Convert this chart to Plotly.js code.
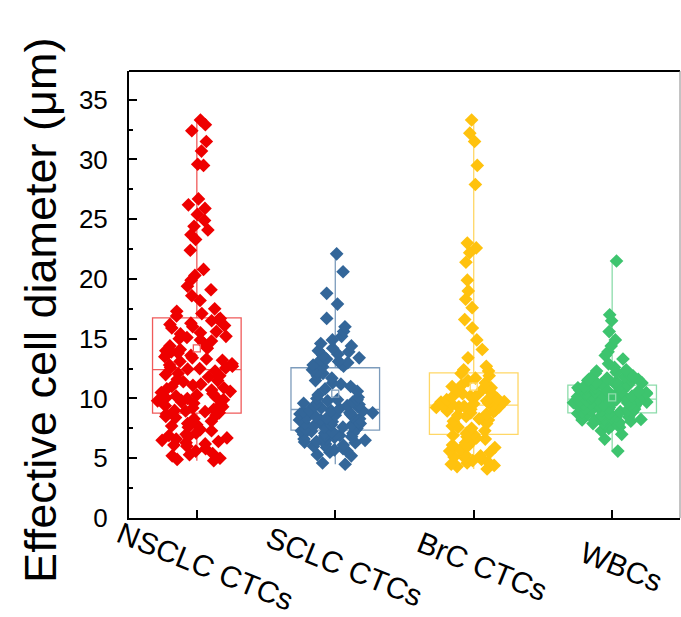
<!DOCTYPE html>
<html>
<head>
<meta charset="utf-8">
<script src="https://cdn.plot.ly/plotly-3.0.1.min.js"></script>
<style>html,body{margin:0;padding:0;background:#fff;}#chart{width:681px;height:617px;}</style>
</head>
<body>
<div id="chart"></div>
<script>
// Categories and colours
const categories = ["NSCLC CTCs", "SCLC CTCs", "BrC CTCs", "WBCs"];
const colors = ["#EE0000", "#336699", "#FFC20E", "#3DC46E"];
const boxLineColors = ["#F05A5A", "#7D9CBC", "#FFD766", "#8CDCAA"];

// Effective cell diameter values (µm)
const nsclc = [33.3, 32.9, 32.4, 31.5, 30.7, 29.6, 29.5, 26.7, 26.2, 25.9, 25.4, 24.9, 24.4, 24.1, 23.7, 23.3, 22.4, 20.8, 20.3, 19.9, 19.4, 19.1, 18.6, 18.2, 17.5, 17.3, 17.1, 16.9,
  16.6, 16.5, 16.2, 16.3, 15.9, 15.6, 15.5, 15.4, 15.1, 14.8, 14.9, 14.6, 14.4, 14.1, 13.9, 14.0, 13.6, 13.5, 13.3, 13.2, 13.4, 12.9, 12.7, 12.6, 12.8, 12.5, 13.8, 15.2, 16.0, 12.45,
  16.1, 15.0, 14.2, 13.7, 13.1, 12.55, 16.7,
  12.3, 12.1, 11.9, 11.8, 11.5, 11.4, 11.2, 11.0, 10.9, 10.8, 10.6, 10.5, 10.3, 10.2, 10.1, 10.0, 9.9, 9.8, 9.6, 9.5, 9.4, 9.3, 9.1, 9.0, 8.95, 8.9, 8.8, 10.4, 11.1, 9.7,
  10.05, 9.85, 11.6, 12.0, 9.2, 10.7,
  8.6, 8.5, 8.3, 8.1, 7.9, 7.8, 7.6, 7.4, 7.1, 7.0, 6.8, 6.7, 6.6, 6.5, 6.3, 6.1, 6.0, 5.8, 5.6, 5.4, 5.2, 5.0, 4.9, 4.8, 6.4, 7.3,
  8.4, 7.7, 6.9, 6.2, 5.3, 8.7];
const sclc = [22.1, 20.6, 18.8, 17.9, 16.7, 16.0, 15.6, 15.2, 14.9, 14.6, 14.4, 14.2, 13.9, 13.7, 13.6, 13.4, 13.2, 13.1, 13.0, 12.9, 12.8, 12.7, 12.65, 14.0, 13.3,
  12.4, 12.2, 12.1, 11.9, 11.7, 11.5, 11.3, 11.2, 11.0, 10.8, 10.6, 10.3, 10.1, 10.0, 9.9, 9.8, 9.7, 9.6, 9.5, 9.4, 9.3, 9.2, 9.15, 9.6, 9.9,
  9.0, 8.95, 8.9, 8.8, 8.7, 8.6, 8.5, 8.4, 8.3, 8.2, 8.1, 8.0, 7.9, 7.8, 7.7, 7.6, 7.5, 7.45, 7.4, 8.5, 8.8, 8.2, 7.9, 7.6, 9.0,
  8.65, 8.35, 8.05, 7.75, 9.35,
  7.3, 7.2, 7.1, 7.0, 6.9, 6.8, 6.7, 6.6, 6.5, 6.4, 6.3, 6.2, 6.0, 5.9, 5.8, 5.6, 5.5, 5.3, 5.2, 4.6, 4.5, 6.9, 6.6, 7.1, 6.1,
  7.25, 6.75, 6.35, 5.7, 7.0];
const brc = [33.3, 32.2, 31.5, 29.5, 27.9, 23.0, 22.6, 22.2, 21.4, 19.9, 19.0, 18.3, 17.6, 16.6, 15.9, 14.9, 14.1, 13.4, 12.7, 12.4, 12.3,
  12.1, 11.9, 11.7, 11.5, 11.3, 11.1, 10.9, 10.8, 10.6, 10.4, 10.3, 10.1, 10.0, 9.9, 9.8, 9.7, 9.6, 9.5, 9.45, 10.2, 11.0,
  10.5, 9.75, 9.55,
  9.4, 9.35, 9.3, 9.2, 9.1, 9.0, 8.9, 8.7, 8.5, 8.3, 8.1, 7.9, 7.7, 7.5, 7.3, 7.1, 7.0, 9.3, 8.8, 8.2, 7.6,
  9.25, 8.95, 8.6,
  6.9, 6.7, 6.5, 6.3, 6.1, 5.9, 5.7, 5.5, 5.3, 5.1, 4.9, 4.8, 4.7, 4.6, 4.5, 4.3, 4.1, 6.6, 5.6, 5.0, 4.4,
  6.8, 6.0, 5.2];
const wbc = [21.5, 17.0, 16.5, 15.6, 14.4, 13.9, 13.3, 12.9, 12.6, 12.3, 12.1, 11.9, 11.8, 11.7, 11.6, 11.5, 11.45, 11.4, 11.3, 11.25, 11.2, 11.15, 11.6, 11.9, 12.4,
  13.6, 14.9, 12.2, 11.35, 11.55,
  11.1, 11.05, 11.0, 10.9, 10.85, 10.8, 10.7, 10.65, 10.6, 10.5, 10.45, 10.4, 10.3, 10.25, 10.2, 10.15, 10.1, 10.05, 10.0, 9.95, 10.6, 10.9, 10.3, 10.7, 10.2,
  10.95, 10.75, 10.55, 10.35, 10.1,
  9.9, 9.85, 9.8, 9.75, 9.7, 9.6, 9.55, 9.5, 9.45, 9.4, 9.3, 9.25, 9.2, 9.15, 9.1, 9.0, 8.95, 8.9, 8.85, 8.82, 9.6, 9.35, 9.05, 9.7, 9.5,
  9.65, 9.4, 9.1, 8.9, 9.8,
  8.75, 8.7, 8.65, 8.6, 8.55, 8.5, 8.45, 8.4, 8.35, 8.3, 8.2, 8.1, 8.0, 7.9, 7.8, 7.7, 7.5, 7.3, 7.0, 6.6, 5.6, 8.6, 8.4, 8.2, 7.9,
  8.75, 8.5, 8.25, 7.6, 8.0];

// Box statistics
const q1 = [8.77, 7.35, 6.99, 8.80];
const median = [12.42, 9.08, 9.44, 9.94];
const q3 = [16.75, 12.57, 12.15, 11.11];
const mean = [14.2, 10.4, 11.0, 10.1];
const lowerfence = [4.8, 4.5, 4.1, 5.6];
const upperfence = [33.3, 22.1, 33.3, 21.5];

const groups = [nsclc, sclc, brc, wbc];
const FONT = "Arial, 'Liberation Sans', sans-serif";
const BOXW = 0.64;

const traces = [];
categories.forEach((c, i) => {
  traces.push({
    type: "box", x: [c], q1: [q1[i]], median: [median[i]], q3: [q3[i]],
    lowerfence: [lowerfence[i]], upperfence: [upperfence[i]],
    width: BOXW, boxpoints: false, whiskerwidth: 0,
    line: {color: boxLineColors[i], width: 1.3},
    fillcolor: "rgba(0,0,0,0)", showlegend: false, hoverinfo: "skip"
  });
});
categories.forEach((c, i) => {
  traces.push({
    type: "scatter", mode: "markers", x: [c], y: [mean[i]],
    marker: {symbol: "square-open", size: 7, color: boxLineColors[i], line: {width: 1.3}},
    showlegend: false, hoverinfo: "skip"
  });
});
categories.forEach((c, i) => {
  traces.push({
    type: "box", x: groups[i].map(() => c), y: groups[i],
    width: BOXW, boxpoints: "all", jitter: 0.9, pointpos: 0,
    line: {color: "rgba(0,0,0,0)", width: 0}, fillcolor: "rgba(0,0,0,0)", whiskerwidth: 0,
    marker: {symbol: "diamond", size: 10.5, color: colors[i], line: {width: 0}},
    showlegend: false, hoverinfo: "skip"
  });
});

const annotations = categories.map(c => ({
  text: c, x: c, xref: "x", y: -0.108, yref: "paper",
  xanchor: "center", yanchor: "middle", textangle: 22, showarrow: false, xshift: 9,
  font: {family: FONT, size: 30, color: "#000"}
}));
annotations.push({
  text: "Effective cell diameter (\u03bcm)", xref: "paper", yref: "paper",
  x: -0.162, y: 0.465, xanchor: "center", yanchor: "middle", textangle: -90, showarrow: false,
  font: {family: FONT, size: 45, color: "#000"}
});

const layout = {
  width: 681, height: 617,
  margin: {l: 129, r: 1, t: 71, b: 99, pad: 0},
  paper_bgcolor: "#fff", plot_bgcolor: "#fff",
  boxmode: "overlay", showlegend: false,
  font: {family: FONT, color: "#000"},
  xaxis: {
    type: "category", categoryorder: "array", categoryarray: categories,
    range: [-0.49, 3.49], showgrid: false, zeroline: false,
    showline: true, linecolor: "#000", linewidth: 2,
    ticks: "inside", ticklen: 8, tickwidth: 2, tickcolor: "#000",
    showticklabels: false, fixedrange: true
  },
  yaxis: {
    range: [0, 37.4], dtick: 5, tick0: 0, showgrid: false, zeroline: false,
    showline: true, linecolor: "#000", linewidth: 2,
    ticks: "inside", ticklen: 8, tickwidth: 2, tickcolor: "#000",
    minor: {dtick: 2.5, ticks: "inside", ticklen: 4, tickwidth: 2, tickcolor: "#000", showgrid: false},
    tickfont: {family: FONT, size: 26, color: "#000"},
    ticklabelstandoff: 14,
    automargin: false, fixedrange: true
  },
  shapes: [
    {type: "line", xref: "paper", yref: "paper", x0: 0, x1: 1, y0: 1, y1: 1, line: {color: "#000", width: 2}},
    {type: "line", xref: "paper", yref: "paper", x0: 1, x1: 1, y0: 0, y1: 1, line: {color: "#888", width: 1}}
  ],
  annotations: annotations
};

Plotly.newPlot("chart", traces, layout, {staticPlot: true, displayModeBar: false});
</script>
</body>
</html>
